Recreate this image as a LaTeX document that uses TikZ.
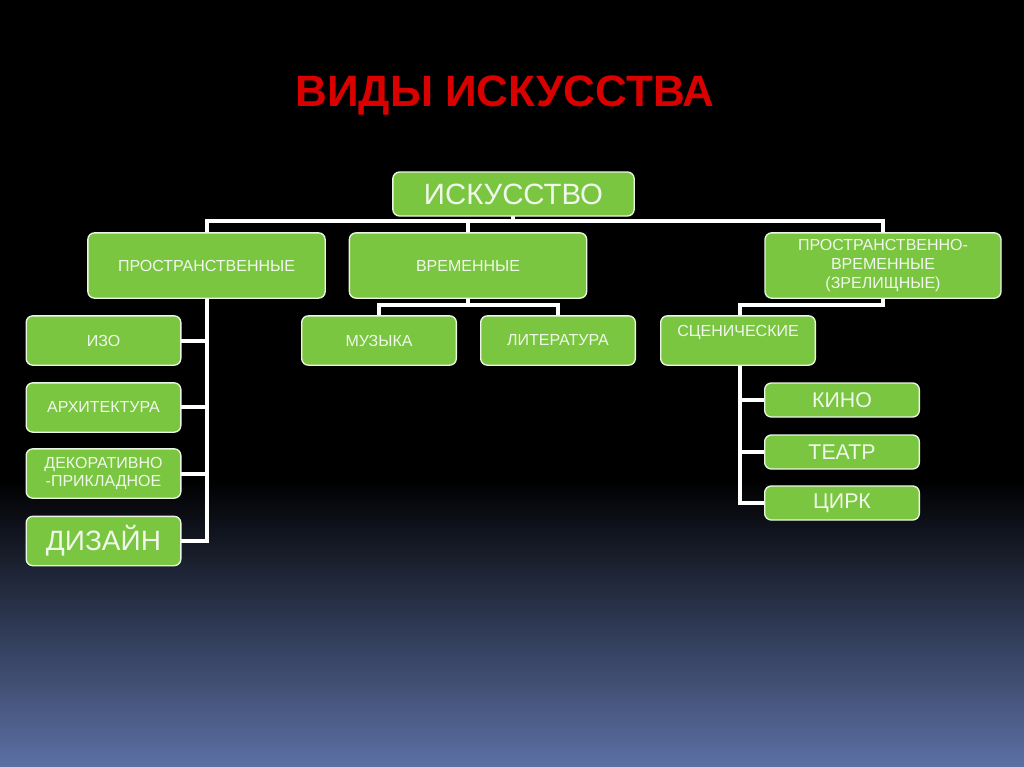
\documentclass[tikz,border=0pt]{standalone}
\usepackage{fontspec}
\setmainfont{Liberation Sans}
\definecolor{gr}{RGB}{122,198,64}
\definecolor{bl}{RGB}{92,112,164}
\definecolor{tt}{RGB}{240,248,235}
\tikzset{
 bx/.style={draw=white!85!gr,line width=1pt,fill=gr,rounded corners=5pt,text=tt,align=center,inner sep=0pt,font=\fontsize{12}{14}\selectfont},
 ln/.style={draw=white,line width=3pt}
}
\begin{document}
\begin{tikzpicture}[x=0.75pt,y=-0.75pt]
\useasboundingbox (0,0) rectangle (1024,767);
\fill[black] (0,0) rectangle (1024,767);
\shade[top color=black,bottom color=bl] (0,480) rectangle (1024,767);
\node[text=red!85!black,font=\bfseries\fontsize{33}{36}\selectfont] (t) at (505,96) {ВИДЫ ИСКУССТВА};
% connectors first
\coordinate (b1) at (513,221);
\draw[ln] (513,216) -- (b1);
\draw[ln] (207,233) -- (207,221) -- (883,221) -- (883,233);
\draw[ln] (468,221) -- (468,233);
\draw[ln] (207,298) -- (207,541) -- (181,541);
\foreach \y in {341,407,474} \draw[ln] (207,\y) -- (181,\y);
\draw[ln] (468,298) -- (468,305);
\draw[ln] (379,316) -- (379,305) -- (558,305) -- (558,316);
\draw[ln] (883,298) -- (883,305) -- (740,305) -- (740,316);
\draw[ln] (740,365) -- (740,503) -- (765,503);
\foreach \y in {400,452} \draw[ln] (740,\y) -- (765,\y);
% boxes
\node[bx,minimum width=181,minimum height=33,font=\fontsize{22}{24}\selectfont] (a) at (513.5,194) {ИСКУССТВО};
\node[bx,minimum width=178,minimum height=49] (p) at (206.5,265.5) {ПРОСТРАНСТВЕННЫЕ};
\node[bx,minimum width=178,minimum height=49] (v) at (468,265.5) {ВРЕМЕННЫЕ};
\node[bx,minimum width=177,minimum height=49] (pv) at (883,265.5) {ПРОСТРАНСТВЕННО-\\ВРЕМЕННЫЕ\\(ЗРЕЛИЩНЫЕ)};
\node[bx,minimum width=116,minimum height=37] (i) at (103.5,340.5) {ИЗО};
\node[bx,minimum width=116,minimum height=37] (ar) at (103.5,407.5) {АРХИТЕКТУРА};
\node[bx,minimum width=116,minimum height=37] (d) at (103.5,473.5) {ДЕКОРАТИВНО\\-ПРИКЛАДНОЕ};
\node[bx,minimum width=116,minimum height=37,font=\fontsize{21}{23}\selectfont] (dz) at (103.5,541) {ДИЗАЙН};
\node[bx,minimum width=116,minimum height=37] (m) at (379,340.5) {МУЗЫКА};
\node[bx,minimum width=116,minimum height=37] (l) at (558,340.5) {ЛИТЕРАТУРА};
\node[bx,minimum width=116,minimum height=37,text depth=15] (s) at (738,340.5) {СЦЕНИЧЕСКИЕ};
\node[bx,minimum width=116,minimum height=25.5,font=\fontsize{16}{18}\selectfont] (k) at (842,400) {КИНО};
\node[bx,minimum width=116,minimum height=25.5,font=\fontsize{16}{18}\selectfont] (te) at (842,452) {ТЕАТР};
\node[bx,minimum width=116,minimum height=25.5,font=\fontsize{16}{18}\selectfont] (c) at (842,503) {ЦИРК};
\end{tikzpicture}
\end{document}
